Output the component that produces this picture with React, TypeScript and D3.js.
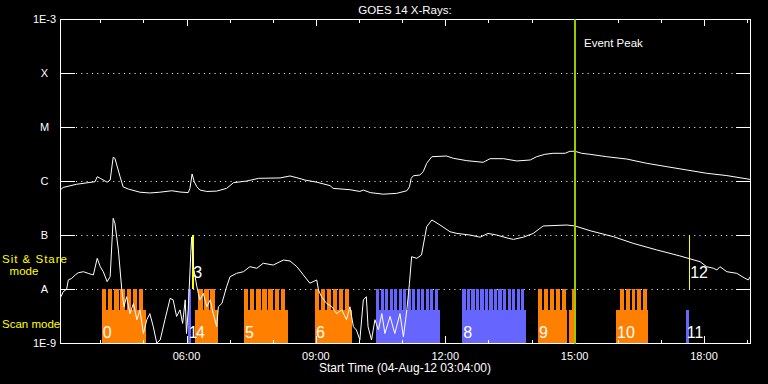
import React from 'react';
import * as d3 from 'd3';

const WIDTH = 768;
const HEIGHT = 384;
const PLOT = { left: 60, right: 750, top: 19, bottom: 343 };

const startHour = 3 + 4 / 60; // 03:04
const endHour = 19 + 4 / 60;

const yTickValues = [1e-9, 1e-8, 1e-7, 1e-6, 1e-5, 1e-4, 1e-3];
const yTickLabels = ['1E-9', 'A', 'B', 'C', 'M', 'X', '1E-3'];
const gridValues = [1e-8, 1e-7, 1e-6, 1e-5, 1e-4];
const xMajorHours = [6, 9, 12, 15, 18];
const xMajorLabels = ['06:00', '09:00', '12:00', '15:00', '18:00'];
const xMinorHours = [4, 5, 7, 8, 10, 11, 13, 14, 16, 17, 19];

// GOES long channel (1-8 A), hours UT and W/m^2
const longTime = [
  3.07, 3.14, 3.45, 3.88, 3.93, 4.0, 4.16, 4.23, 4.3, 4.34,
  4.46, 4.53, 4.65, 4.92, 5.15, 5.38, 5.66, 5.85, 6.04, 6.08,
  6.13, 6.18, 6.24, 6.31, 6.47, 6.7, 6.93, 7.09, 7.4, 7.67,
  8.17, 8.4, 8.56, 8.75, 9.02, 9.33, 9.4, 9.79, 10.02, 10.1,
  10.26, 10.56, 10.87, 11.11, 11.17, 11.21, 11.26, 11.41, 11.49, 11.57,
  11.69, 12.03, 12.19, 12.5, 12.88, 13.04, 13.35, 13.66, 13.97, 14.12,
  14.31, 14.5, 14.78, 14.89, 15.01, 15.16, 15.36, 15.74, 16.21, 16.67,
  17.14, 17.6, 18.06, 18.53, 19.07,
];
const longFlux = [
  6.8e-7, 7.6e-7, 8.7e-7, 9.7e-7, 1.2e-6, 1.12e-6, 9.5e-7, 1.04e-6, 2.75e-6, 2.63e-6,
  1.2e-6, 7.8e-7, 7.1e-7, 6.2e-7, 6.0e-7, 6.2e-7, 6.6e-7, 6.25e-7, 6.1e-7, 7.3e-7,
  1.35e-6, 9.7e-7, 7.8e-7, 6.8e-7, 6.4e-7, 6.5e-7, 7.3e-7, 9.3e-7, 1.0e-6, 1.12e-6,
  1.14e-6, 1.24e-6, 1.15e-6, 1.04e-6, 9.5e-7, 8.2e-7, 7.3e-7, 6.9e-7, 6.4e-7, 6.8e-7,
  6.1e-7, 5.7e-7, 5.9e-7, 6.6e-7, 7.8e-7, 1.12e-6, 1.25e-6, 1.29e-6, 1.49e-6, 2.13e-6,
  2.82e-6, 2.9e-6, 2.63e-6, 2.38e-6, 2.22e-6, 2.59e-6, 2.59e-6, 2.35e-6, 2.45e-6, 2.82e-6,
  3.12e-6, 3.26e-6, 3.26e-6, 3.55e-6, 3.55e-6, 3.26e-6, 3.12e-6, 2.82e-6, 2.55e-6, 2.13e-6,
  1.84e-6, 1.6e-6, 1.39e-6, 1.26e-6, 1.07e-6,
];

// GOES short channel (0.5-4 A)
const shortTime = [
  3.09, 3.14, 3.22, 3.26, 3.34, 3.42, 3.49, 3.61, 3.72, 3.84,
  3.93, 4.0, 4.07, 4.16, 4.23, 4.3, 4.34, 4.42, 4.5, 4.55,
  4.61, 4.69, 4.77, 4.85, 4.92, 5.0, 5.08, 5.15, 5.23, 5.31,
  5.39, 5.5, 5.62, 5.69, 5.77, 5.85, 5.91, 5.97, 6.0, 6.04,
  6.1, 6.12, 6.16, 6.24, 6.31, 6.39, 6.47, 6.55, 6.62, 6.7,
  6.74, 6.82, 6.93, 7.01, 7.16, 7.32, 7.47, 7.63, 7.78, 8.01,
  8.25, 8.4, 8.56, 8.71, 8.86, 9.02, 9.06, 9.13, 9.25, 9.37,
  9.48, 9.6, 9.71, 9.79, 9.87, 9.94, 10.02, 10.1, 10.17, 10.21,
  10.29, 10.37, 10.45, 10.53, 10.6, 10.72, 10.83, 10.95, 11.03, 11.11,
  11.17, 11.22, 11.34, 11.45, 11.57, 11.69, 11.88, 12.11, 12.27, 12.57,
  12.81, 12.99, 13.19, 13.46, 13.58, 13.81, 14.04, 14.27, 14.82, 15.01,
  15.36, 15.9, 16.36, 16.9, 17.44, 17.91, 18.06, 18.22, 18.3, 18.37,
  18.53, 18.76, 18.95, 19.03, 19.07,
];
const shortFlux = [
  7.2e-9, 8.9e-9, 9.9e-9, 1.47e-8, 1.58e-8, 1.82e-8, 2.0e-8, 2.09e-8, 1.95e-8, 1.82e-8,
  3.7e-8, 2.59e-8, 2.09e-8, 1.37e-8, 1.69e-8, 2.04e-7, 1.65e-7, 5.3e-8, 9.6e-9, 4.7e-9,
  7.2e-9, 3.5e-9, 5.4e-9, 2.7e-9, 4.1e-9, 1.5e-9, 2.7e-9, 3.5e-9, 2.0e-9, 1.0e-9,
  1.14e-9, 2.7e-9, 6.7e-9, 6.3e-9, 3.1e-9, 4.1e-9, 2.3e-9, 6.3e-9, 1.5e-9, 4.1e-9,
  4.6e-8, 9.2e-8, 2.59e-8, 1.1e-8, 6.3e-9, 8.3e-9, 4.7e-9, 6.3e-9, 3.5e-9, 2.0e-9,
  4.7e-9, 5.4e-9, 1.1e-8, 1.69e-8, 1.95e-8, 2.09e-8, 2.59e-8, 2.42e-8, 3.0e-8, 2.78e-8,
  3.44e-8, 3.3e-8, 2.59e-8, 1.82e-8, 1.28e-8, 1.47e-8, 9.6e-9, 7.2e-9, 5.4e-9, 4.7e-9,
  3.5e-9, 4.1e-9, 2.7e-9, 4.7e-9, 2.0e-9, 1.74e-9, 1.14e-9, 6.3e-9, 7.2e-9, 2.0e-9,
  1.14e-9, 2.7e-9, 1.74e-9, 3.5e-9, 1.5e-9, 3.1e-9, 1.5e-9, 3.5e-9, 1.3e-9, 4.1e-9,
  1.28e-8, 3.96e-8, 3.7e-8, 4.27e-8, 1.43e-7, 1.9e-7, 1.53e-7, 1.15e-7, 1.07e-7, 1.0e-7,
  9.1e-8, 1.07e-7, 1.0e-7, 8.7e-8, 8.3e-8, 9.1e-8, 1.07e-7, 1.47e-7, 1.53e-7, 1.47e-7,
  1.2e-7, 9.3e-8, 7.0e-8, 5.3e-8, 4.1e-8, 3.2e-8, 2.59e-8, 2.42e-8, 2.25e-8, 2.59e-8,
  2.09e-8, 1.95e-8, 1.58e-8, 1.47e-8, 1.69e-8,
];

// Scan mode intervals (hours UT)
const scanLabels = ['0', '1', '4', '5', '6', '', '8', '9', '', '10', '11'];
const scanKinds = ['orange', 'blue', 'orange', 'orange', 'orange', 'blue', 'blue', 'orange', 'orange', 'orange', 'blue'];
const scanStart = [4.034, 6.028, 6.197, 7.334, 8.98, 10.394, 12.396, 14.151, 14.87, 15.96, 17.576];
const scanEnd = [5.061, 6.098, 6.724, 8.347, 9.831, 11.878, 13.873, 14.823, 15.032, 16.702, 17.652];
const scanTeethStart = [4.034, 6.028, 6.274, 7.334, 8.98, 10.394, 12.396, 14.151, 14.939, 16.052, 17.576];
const scanTeethEnd = [4.999, 6.098, 6.652, 8.284, 9.768, 11.832, 13.833, 14.8, 15.032, 16.678, 17.652];
const scanTeethCount = [7, 1, 3, 7, 6, 14, 14, 5, 1, 5, 0];

// Sit & Stare mode
const sitStareTimes = [6.121, 17.645];
const sitStareLabels = ['3', '12'];

const eventPeakHour = 15.009;

const COLORS: Record<string, string> = { orange: '#ff8000', blue: '#6666ff' };
const GAP: Record<string, number> = { orange: 1.8, blue: 1.3 };
const TOOTH_TOP = 1e-8;
const BASE_TOP = 4.1e-9;
const FONT = '"Liberation Sans", Arial, sans-serif';

export default function App() {
  const x = d3.scaleLinear().domain([startHour, endHour]).range([PLOT.left, PLOT.right]);
  const y = d3.scaleLog().domain([1e-9, 1e-3]).range([PLOT.bottom, PLOT.top]);

  const longData: [number, number][] = longTime.map((t, i) => [t, longFlux[i]]);
  const shortData: [number, number][] = shortTime.map((t, i) => [t, shortFlux[i]]);
  const line = d3
    .line<[number, number]>()
    .x((d) => x(d[0]))
    .y((d) => y(d[1]));

  const scanMarks = scanStart.map((s, i) => {
    const kind = scanKinds[i];
    const color = COLORS[kind];
    const x0 = x(s);
    const x1 = x(scanEnd[i]);
    const rects: JSX.Element[] = [];
    rects.push(
      <rect key={`b${i}`} x={x0} y={y(BASE_TOP)} width={x1 - x0} height={y(1e-9) - y(BASE_TOP)} fill={color} />
    );
    const n = scanTeethCount[i];
    if (n > 0) {
      const tx0 = x(scanTeethStart[i]);
      const tx1 = x(scanTeethEnd[i]);
      const g = n > 1 ? GAP[kind] : 0;
      const p = (tx1 - tx0 + g) / n;
      for (let k = 0; k < n; k++) {
        rects.push(
          <rect
            key={`t${i}-${k}`}
            x={tx0 + k * p}
            y={y(TOOTH_TOP)}
            width={p - g}
            height={y(BASE_TOP) - y(TOOTH_TOP) + 1}
            fill={color}
          />
        );
      }
    }
    return <g key={i}>{rects}</g>;
  });

  return (
    <svg
      width={WIDTH}
      height={HEIGHT}
      style={{ position: 'absolute', left: 0, top: 0, display: 'block' }}
      fontFamily={FONT}
    >
      <defs>
        <clipPath id="plotclip">
          <rect x={PLOT.left} y={PLOT.top} width={PLOT.right - PLOT.left} height={PLOT.bottom - PLOT.top} />
        </clipPath>
      </defs>
      <rect x={0} y={0} width={WIDTH} height={HEIGHT} fill="#000" />

      {/* dotted grid */}
      {gridValues.map((v) => (
        <line
          key={v}
          x1={PLOT.left}
          x2={PLOT.right}
          y1={y(v) + 0.5}
          y2={y(v) + 0.5}
          stroke="#fff"
          strokeWidth={1}
          strokeDasharray="1 4.33"
        />
      ))}

      {/* scan mode blocks */}
      <g shapeRendering="crispEdges">{scanMarks}</g>
      {scanStart.map((s, i) =>
        scanLabels[i] ? (
          <text key={`l${i}`} x={x(s) + 1} y={338} fill="#fff" fontSize={16}>
            {scanLabels[i]}
          </text>
        ) : null
      )}

      {/* sit & stare lines */}
      {sitStareTimes.map((t, i) => (
        <line
          key={`ss${i}`}
          x1={Math.round(x(t)) + 0.5}
          x2={Math.round(x(t)) + 0.5}
          y1={y(1e-7)}
          y2={y(1e-8)}
          stroke="#ffff00"
          strokeWidth={i === 0 ? 2 : 1.2}
          shapeRendering="crispEdges"
        />
      ))}

      {/* data */}
      <g clipPath="url(#plotclip)">
        <path d={line(shortData) || ''} fill="none" stroke="#fff" strokeWidth={1} />
        <path d={line(longData) || ''} fill="none" stroke="#fff" strokeWidth={1} />
      </g>

      {sitStareTimes.map((t, i) => (
        <text key={`ssl${i}`} x={x(t) + 1.5} y={278} fill="#fff" fontSize={16}>
          {sitStareLabels[i]}
        </text>
      ))}

      {/* frame and ticks */}
      <g stroke="#fff" strokeWidth={1} shapeRendering="crispEdges">
        <rect
          x={PLOT.left + 0.5}
          y={PLOT.top + 0.5}
          width={PLOT.right - PLOT.left}
          height={PLOT.bottom - PLOT.top}
          fill="none"
        />
        {yTickValues.map((v) => (
          <g key={`yt${v}`}>
            <line x1={PLOT.left} x2={PLOT.left + 15} y1={y(v) + 0.5} y2={y(v) + 0.5} />
            <line x1={PLOT.right - 14} x2={PLOT.right} y1={y(v) + 0.5} y2={y(v) + 0.5} />
          </g>
        ))}
        {xMajorHours.map((h) => (
          <g key={`xM${h}`}>
            <line x1={Math.round(x(h)) + 0.5} x2={Math.round(x(h)) + 0.5} y1={PLOT.top} y2={PLOT.top + 7} />
            <line x1={Math.round(x(h)) + 0.5} x2={Math.round(x(h)) + 0.5} y1={PLOT.bottom - 7} y2={PLOT.bottom} />
          </g>
        ))}
        {xMinorHours.map((h) => (
          <g key={`xm${h}`}>
            <line x1={Math.round(x(h)) + 0.5} x2={Math.round(x(h)) + 0.5} y1={PLOT.top} y2={PLOT.top + 4} />
            <line x1={Math.round(x(h)) + 0.5} x2={Math.round(x(h)) + 0.5} y1={PLOT.bottom - 3} y2={PLOT.bottom} />
          </g>
        ))}
      </g>

      {/* event peak */}
      <line
        x1={x(eventPeakHour)}
        x2={x(eventPeakHour)}
        y1={PLOT.top}
        y2={PLOT.bottom + 1}
        stroke="#99cc00"
        strokeWidth={2}
      />
      <text x={x(eventPeakHour) + 9} y={47} fill="#fff" fontSize={11.5}>
        Event Peak
      </text>

      {/* y labels */}
      {yTickValues.map((v, i) => (
        <text key={`yl${v}`} x={44.5} y={y(v) + 4} fill="#fff" fontSize={11} textAnchor="middle">
          {yTickLabels[i]}
        </text>
      ))}
      {/* x labels */}
      {xMajorHours.map((h, i) => (
        <text key={`xl${h}`} x={x(h)} y={359.5} fill="#fff" fontSize={11} textAnchor="middle">
          {xMajorLabels[i]}
        </text>
      ))}

      <text x={405} y={14} fill="#fff" fontSize={11.5} textAnchor="middle">
        GOES 14 X-Rays:
      </text>
      <text x={405} y={371.5} fill="#fff" fontSize={12} textAnchor="middle">
        Start Time (04-Aug-12 03:04:00)
      </text>
      <text x={2} y={263} fill="#ffff00" fontSize={11.5} textLength={65} lengthAdjust="spacing">
        Sit &amp; Stare
      </text>
      <text x={24} y={274.5} fill="#ffff00" fontSize={11.5} textAnchor="middle">
        mode
      </text>
      <text x={2} y={328} fill="#ffff00" fontSize={11.5}>
        Scan mode
      </text>
    </svg>
  );
}
